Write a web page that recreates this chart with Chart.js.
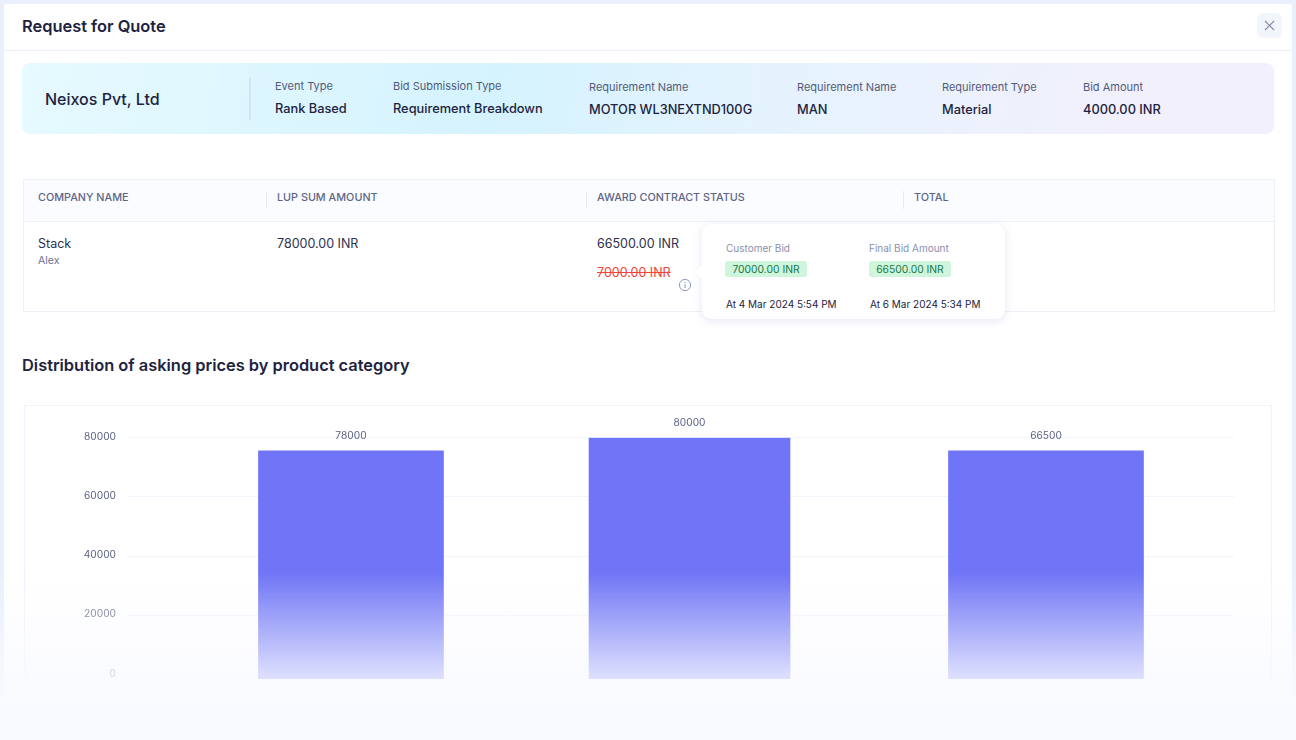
<!DOCTYPE html>
<html>
<head>
<meta charset="utf-8">
<title>Request for Quote</title>
<script src="https://cdn.jsdelivr.net/npm/chart.js@4"></script>
<style>
    html, body { margin: 0; width: 1296px; height: 740px; overflow: hidden; background: #eaeffb; font-family: Inter, sans-serif; color: #1d2340; }
    #panel { position: absolute; left: 4px; top: 4px; width: 1288px; height: 736px; background: #fff; }
    #page > div, #page > svg, #page > canvas { position: absolute; }
    .t { white-space: nowrap; line-height: 16px; }
    .title { font-size: 16.4px; font-weight: 600; line-height: 22px; }
    .lbl { font-size: 11px; color: #525a7a; }
    .val { font-size: 12.8px; font-weight: 500; }
    .th { font-size: 10.8px; font-weight: 500; color: #5c6689; }
    .td { font-size: 12.5px; color: #2b3150; }
    .sep { background: #e8ebf5; width: 1px; }
    .tipLbl { font-size: 10px; color: #8a90ad; }
    .pill { background: #cff5dd; color: #127a48; font-size: 10.3px; border-radius: 3px; height: 16px; width: 82px; text-align: center; line-height: 16px; }
    .tipDate { font-size: 10px; color: #1d2340; }
</style>
</head>
<body>
<div id="panel"></div>
<div id="page">
    <div style="left:4px;top:50px;width:1288px;height:1px;background:#e9eefb"></div>
    <div class="t title" style="left:22px;top:15px">Request for Quote</div>
    <div style="left:1257px;top:13px;width:25px;height:25px;border-radius:6px;background:#f3f5fd"></div>
    <svg style="left:1264px;top:20px" width="11" height="11"><path d="M1 1L10 10M10 1L1 10" stroke="#7f88a8" stroke-width="1.1"/></svg>

    <div style="left:22px;top:63px;width:1252px;height:71px;border-radius:8px;background:linear-gradient(100deg,#e6faff 0%,#d5f3fe 38%,#e4f3fe 58%,#f2f0fc 90%)"></div>
    <div style="left:249px;top:78px;width:2px;height:42px;background:#cfe6f0"></div>
    <div class="t" style="left:45px;top:90px;font-size:16px;font-weight:500;line-height:18px">Neixos Pvt, Ltd</div>
    <div class="t lbl" style="left:275px;top:78px">Event Type</div>
    <div class="t val" style="left:275px;top:101px">Rank Based</div>
    <div class="t lbl" style="left:393px;top:78px">Bid Submission Type</div>
    <div class="t val" style="left:393px;top:101px">Requirement Breakdown</div>
    <div class="t lbl" style="left:589px;top:79px">Requirement Name</div>
    <div class="t val" style="left:589px;top:102px">MOTOR WL3NEXTND100G</div>
    <div class="t lbl" style="left:797px;top:79px">Requirement Name</div>
    <div class="t val" style="left:797px;top:102px">MAN</div>
    <div class="t lbl" style="left:942px;top:79px">Requirement Type</div>
    <div class="t val" style="left:942px;top:102px">Material</div>
    <div class="t lbl" style="left:1083px;top:79px">Bid Amount</div>
    <div class="t val" style="left:1083px;top:102px">4000.00 INR</div>

    <div style="left:23px;top:179px;width:1250px;height:131px;border:1px solid #eef0f8"></div>
    <div style="left:24px;top:180px;width:1250px;height:41px;background:#fbfcff;border-bottom:1px solid #eef0f8"></div>
    <div class="sep" style="left:266px;top:191px;height:18px"></div>
    <div class="sep" style="left:586px;top:191px;height:18px"></div>
    <div class="sep" style="left:903px;top:191px;height:18px"></div>
    <div class="t th" style="left:38px;top:190px">COMPANY NAME</div>
    <div class="t th" style="left:277px;top:190px">LUP SUM AMOUNT</div>
    <div class="t th" style="left:597px;top:190px">AWARD CONTRACT STATUS</div>
    <div class="t th" style="left:914px;top:190px">TOTAL</div>
    <div class="t td" style="left:38px;top:236px">Stack</div>
    <div class="t" style="left:38px;top:253px;font-size:10.5px;color:#6a7090">Alex</div>
    <div class="t td" style="left:277px;top:236px">78000.00 INR</div>
    <div class="t td" style="left:597px;top:236px">66500.00 INR</div>
    <div class="t td" style="left:597px;top:265px;color:#f0453a;text-decoration:line-through">7000.00 INR</div>
    <svg style="left:678px;top:278px" width="14" height="14"><circle cx="7" cy="7" r="5.6" fill="none" stroke="#8f9bc4" stroke-width="1"/><path d="M7 6.3V10M7 4V5" stroke="#8f9bc4" stroke-width="1.1"/></svg>

    <div style="left:702px;top:224px;width:303px;height:95px;background:#fff;border-radius:9px;box-shadow:0 2px 10px rgba(110,120,200,.18)"></div>
    <div style="left:697px;top:267px;width:10px;height:10px;background:#fff;transform:rotate(45deg)"></div>
    <div class="t tipLbl" style="left:726px;top:240px">Customer Bid</div>
    <div class="t tipLbl" style="left:869px;top:240px">Final Bid Amount</div>
    <div class="pill" style="left:725px;top:261px">70000.00 INR</div>
    <div class="pill" style="left:869px;top:261px">66500.00 INR</div>
    <div class="t tipDate" style="left:726px;top:296px">At 4 Mar 2024 5:54 PM</div>
    <div class="t tipDate" style="left:870px;top:296px">At 6 Mar 2024 5:34 PM</div>

    <div class="t title" style="left:22px;top:354px">Distribution of asking prices by product category</div>

    <div style="left:24px;top:405px;width:1248px;height:300px;border:1px solid #f1f2fd;box-sizing:border-box"></div>
    <canvas id="bidChart" width="1248" height="300" style="left:24px;top:405px"></canvas>

    <!-- page fades out at the bottom, over the chart -->
    <div style="left:0;top:572px;width:1296px;height:168px;background:linear-gradient(to bottom,rgba(249,250,255,0) 0,rgba(249,250,255,1) 132px)"></div>
</div>

<script>
// data
const categories = ['Lump sum', 'Customer bid', 'Final bid'];
// heights as drawn in the picture: they do not follow the printed labels
const barValues = [75600, 80000, 75600];
const barLabels = ['78000', '80000', '66500'];
const barBase = -1400;
const tickValues = [0, 20000, 40000, 60000, 80000];

// styles
const barWidths = [185, 201, 195];
const barCentres = [0.2016, 0.5077, 0.83];   // share of the plot width

// bars are not evenly spaced in the picture
class SpacedCategoryScale extends Chart.CategoryScale {
    static id = 'spacedCategory';
    static defaults = Chart.CategoryScale.defaults;
    getPixelForValue(value) {
        return this.getPixelForDecimal(barCentres[value]);
    }
}
Chart.register(SpacedCategoryScale);

// value labels over the bars
const barLabelPlugin = {
    id: 'barLabels',
    afterDatasetsDraw(chart) {
        const ctx = chart.ctx;
        ctx.save();
        ctx.font = '10.2px Inter';
        ctx.fillStyle = '#5b6285';
        ctx.textAlign = 'center';
        ctx.textBaseline = 'middle';
        chart.data.datasets.forEach((ds, i) => {
            const bar = chart.getDatasetMeta(i).data[i];
            ctx.fillText(barLabels[i], bar.x, bar.y - 14.8);
        });
        ctx.restore();
    }
};

new Chart(document.getElementById('bidChart'), {
    type: 'bar',
    data: {
        labels: categories,
        datasets: categories.map((name, i) => ({
            label: name,
            data: categories.map((c, j) => j === i ? barValues[i] : null),
            base: barBase,
            barThickness: barWidths[i],
            grouped: false,
            backgroundColor: '#6f75f6',
            borderWidth: 0
        }))
    },
    options: {
        responsive: false,
        animation: false,
        layout: { padding: { top: 32.7, bottom: 24.6, right: 38 } },
        plugins: { legend: { display: false }, tooltip: { enabled: false } },
        scales: {
            x: { type: 'spacedCategory', display: false },
            y: {
                min: -2000,
                max: 80000,
                afterBuildTicks: scale => { scale.ticks = tickValues.map(v => ({ value: v })); },
                afterFit: scale => { scale.width = 104; },
                border: { display: false },
                grid: { color: '#f4f5fc', drawTicks: false },
                ticks: {
                    color: '#5b6285',
                    padding: 12,
                    labelOffset: -1,
                    font: { family: 'Inter', size: 10.2 },
                    callback: value => String(value)
                }
            }
        }
    },
    plugins: [barLabelPlugin]
});
</script>
</body>
</html>
